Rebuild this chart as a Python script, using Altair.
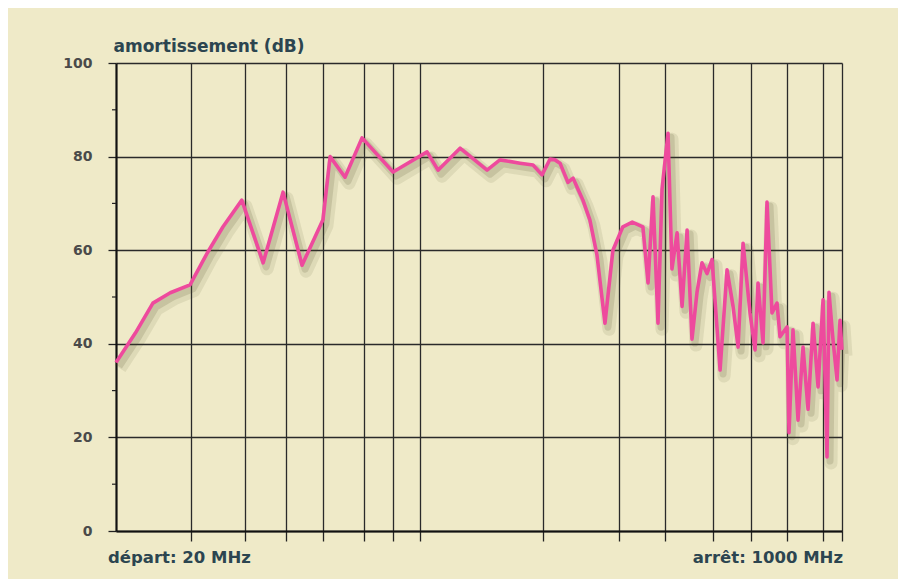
import altair as alt
import pandas as pd

# ---- data ----
freq_mhz = [20, 22.2, 24.4, 26.8, 29.8, 32.7, 35.6, 39.4, 44.2, 49.2, 54.5, 61.0,
            63.4, 68.7, 75.3, 89.0, 106.9, 113.4, 127.7, 147.7, 158.3, 176.4,
            189.2, 198.6, 207.4, 213, 218.8, 228.4, 234.8, 239.8, 247.6, 257, 267,
            278.8, 291, 307, 323, 342, 351.6, 361.2, 371, 379.2, 391.6, 400,
            411.2, 422.4, 434, 445.6, 457.8, 470.2, 483.2, 496.4, 518.4, 538.2,
            556, 571.2, 586.8, 609.2, 625.8, 636, 653.4, 667.6, 685.8, 704.6,
            716, 743.6, 751.6, 768, 789, 810.6, 832.8, 855.6, 879, 903, 922.4,
            932.4, 952.8, 973.6, 989.4, 1000]
atten_db = [36, 42.3, 48.7, 50.9, 52.6, 59.4, 65, 70.7, 57.3, 72.4, 56.8, 66.5,
            80, 75.6, 84, 76.7, 81, 77.1, 81.8, 77.1, 79.3, 78.6,
            78.2, 76.1, 79.5, 79.3, 78.6, 74.5, 75.4, 73.5, 70.7, 66.5, 59,
            44.4, 60, 65, 66, 65, 53, 71.4, 44.4, 73, 85, 56,
            63.7, 48, 64.3, 41, 51, 57.3, 55, 58, 34.4, 55.8,
            48, 39.3, 61.5, 46.6, 38.7, 53, 40.2, 70.3, 46.6, 48.7,
            41.5, 43.6, 21, 43, 23.7, 39.3, 26, 44.4, 30.8, 49.4, 15.8,
            51, 40.8, 32.3, 45, 38.7]

x_grid_mhz = [30, 40, 50, 61, 76, 89, 103, 200, 300, 385, 500, 612, 743, 903, 1000]
y_major = [0, 20, 40, 60, 80, 100]
y_minor = [10, 30, 50, 70, 90]

title_y = "amortissement (dB)"
start_label = "départ: 20 MHz"
stop_label = "arrêt: 1000 MHz"

# ---- layout / style ----
W, H = 726, 468
BG = "#efeac8"
FONT = "DejaVu Sans"
TXT = "#2c4550"

df = pd.DataFrame({"f": freq_mhz, "db": atten_db})
df_minor = pd.DataFrame({"db": y_minor})

xscale = alt.Scale(type="log", domain=[20, 1000], nice=False)
yscale = alt.Scale(domain=[0, 100], nice=False)

xaxis = alt.Axis(values=x_grid_mhz, labels=False, title=None, tickSize=10,
                 tickColor="#222", tickWidth=1.3, grid=True, gridColor="#2a2a2a",
                 gridWidth=1.3, domainColor="#111", domainWidth=2.2)
yaxis = alt.Axis(values=y_major, title=title_y, titleAngle=0, titleAlign="left",
                 titleBaseline="alphabetic", titleX=-3, titleY=-12,
                 titleFont=FONT, titleFontSize=17, titleFontWeight="bold",
                 titleColor=TXT, labelFont=FONT, labelFontSize=14,
                 labelFontWeight="bold", labelColor="#4a4a4a", labelPadding=16,
                 tickSize=8, tickColor="#222", tickWidth=1.3, grid=True,
                 gridColor="#2a2a2a", gridWidth=1.3, domainColor="#111",
                 domainWidth=2.2)

base = alt.Chart(df)
enc = dict(x=alt.X("f:Q", scale=xscale, axis=xaxis),
           y=alt.Y("db:Q", scale=yscale, axis=yaxis))

shadow1 = base.mark_line(color="#4e4a2a", opacity=0.10, strokeWidth=13,
                         xOffset=4, yOffset=6, strokeJoin="round").encode(**enc)
shadow2 = base.mark_line(color="#4e4a2a", opacity=0.16, strokeWidth=7,
                         xOffset=3, yOffset=4, strokeJoin="round").encode(**enc)
line = base.mark_line(color="#ee4a9d", strokeWidth=3.6,
                      strokeJoin="round").encode(**enc)

minor = alt.Chart(df_minor).mark_rule(color="#222", strokeWidth=1.2).encode(
    y=alt.Y("db:Q", scale=yscale, axis=yaxis),
    x=alt.value(-4), x2=alt.value(0))

start_txt = alt.Chart(pd.DataFrame({"t": [start_label]})).mark_text(
    align="left", baseline="alphabetic", font=FONT, fontSize=16.5,
    fontWeight="bold", color=TXT).encode(
    text="t:N", x=alt.value(-8), y=alt.value(H + 32))
stop_txt = alt.Chart(pd.DataFrame({"t": [stop_label]})).mark_text(
    align="right", baseline="alphabetic", font=FONT, fontSize=16.5,
    fontWeight="bold", color=TXT).encode(
    text="t:N", x=alt.value(W + 1), y=alt.value(H + 32))

chart = alt.layer(minor, shadow1, shadow2, line, start_txt, stop_txt).properties(
    width=W, height=H, background=BG,
    padding={"left": 108, "top": 55, "right": 56, "bottom": 48},
    autosize=alt.AutoSizeParams(type="none"),
).configure_view(stroke=None)

chart.save("out.html", embed_options={"renderer": "svg", "actions": False})
